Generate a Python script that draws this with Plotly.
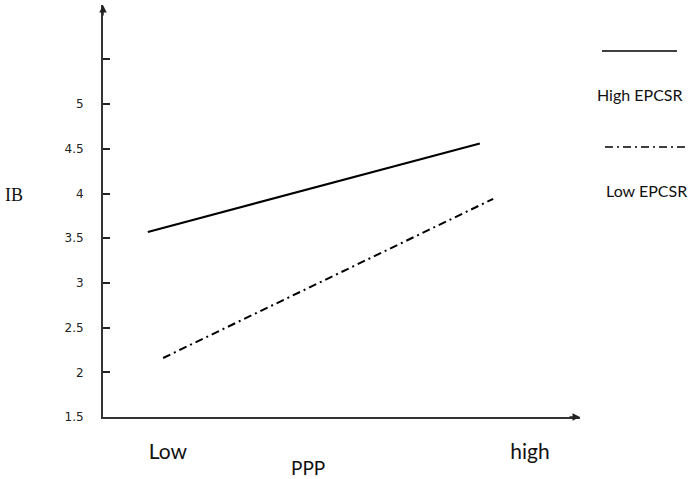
import plotly.graph_objects as go

# ---- data ----
series_names = ["High EPCSR", "Low EPCSR"]
high_x = [0.094, 0.79]
high_y = [3.57, 4.56]
low_x = [0.126, 0.818]
low_y = [2.16, 3.94]
y_tick_vals = [1.5, 2, 2.5, 3, 3.5, 4, 4.5, 5, 5.5]
y_tick_text = ["1.5", "2", "2.5", "3", "3.5", "4", "4.5", "5", ""]
x_tick_vals = [0.136, 0.895]
x_tick_text = ["Low", "high"]

W, H = 692, 479
ML, MR, MT, MB = 103, 112, 5, 62
PW, PH = W - ML - MR, H - MT - MB


def px_x(p):
    return (p - ML) / PW


def px_y(p):
    return (H - MB - p) / PH


fig = go.Figure()
fig.add_trace(go.Scatter(x=high_x, y=high_y, mode="lines", name=series_names[0],
                         line=dict(color="black", width=2), showlegend=False))
fig.add_trace(go.Scatter(x=low_x, y=low_y, mode="lines", name=series_names[1],
                         line=dict(color="black", width=2, dash="8px,4px,2px,4px"),
                         showlegend=False))

fig.update_layout(
    width=W, height=H,
    margin=dict(l=ML, r=MR, t=MT, b=MB, pad=0),
    paper_bgcolor="white", plot_bgcolor="white",
    xaxis=dict(range=[0, 1], showgrid=False, zeroline=False, showline=True,
               linecolor="#333", linewidth=2, tickvals=x_tick_vals, ticktext=x_tick_text,
               ticks="", tickfont=dict(family="Lato, Liberation Sans", size=21, color="#111"),
               ticklabelstandoff=15),
    yaxis=dict(range=[1.5, 1.5 + PH / 89.4], showgrid=False, zeroline=False, showline=True,
               linecolor="#333", linewidth=2, tickvals=y_tick_vals, ticktext=y_tick_text,
               ticks="inside", ticklen=7, tickwidth=2, tickcolor="#222",
               tickfont=dict(family="DejaVu Sans", size=12, color="#222"),
               ticklabelstandoff=15),
)

# axis arrows
fig.add_annotation(x=1, y=0, xref="paper", yref="paper", ax=-12, ay=0, text="",
                   showarrow=True, arrowhead=2, arrowsize=1, arrowwidth=1.5, arrowcolor="#222")
fig.add_annotation(x=0, y=1, xref="paper", yref="paper", ax=0, ay=12, text="",
                   showarrow=True, arrowhead=2, arrowsize=1, arrowwidth=1.5, arrowcolor="#222")

txt = dict(xref="paper", yref="paper", showarrow=False, xanchor="center", yanchor="middle")
# axis titles
fig.add_annotation(x=px_x(14), y=px_y(195), text="IB",
                   font=dict(family="Liberation Serif", size=18, color="#111"), **txt)
fig.add_annotation(x=px_x(308), y=px_y(467), text="PPP",
                   font=dict(family="Lato, Liberation Sans", size=19, color="#111"), **txt)

# legend
fig.add_shape(type="line", xref="paper", yref="paper", x0=px_x(602), x1=px_x(677),
              y0=px_y(51), y1=px_y(51), line=dict(color="black", width=1.5))
fig.add_shape(type="line", xref="paper", yref="paper", x0=px_x(605), x1=px_x(688),
              y0=px_y(147), y1=px_y(147), line=dict(color="black", width=1.5, dash="8px,4px,2px,4px"))
fig.add_annotation(x=px_x(640), y=px_y(94), text=series_names[0],
                   font=dict(family="Lato, Liberation Sans", size=16, color="#111"), **txt)
fig.add_annotation(x=px_x(646), y=px_y(190), text=series_names[1],
                   font=dict(family="Lato, Liberation Sans", size=16, color="#111"), **txt)

fig.write_html("out.html", config={"displayModeBar": False},
               post_script="document.body.style.margin='0';document.body.style.overflow='hidden';")
